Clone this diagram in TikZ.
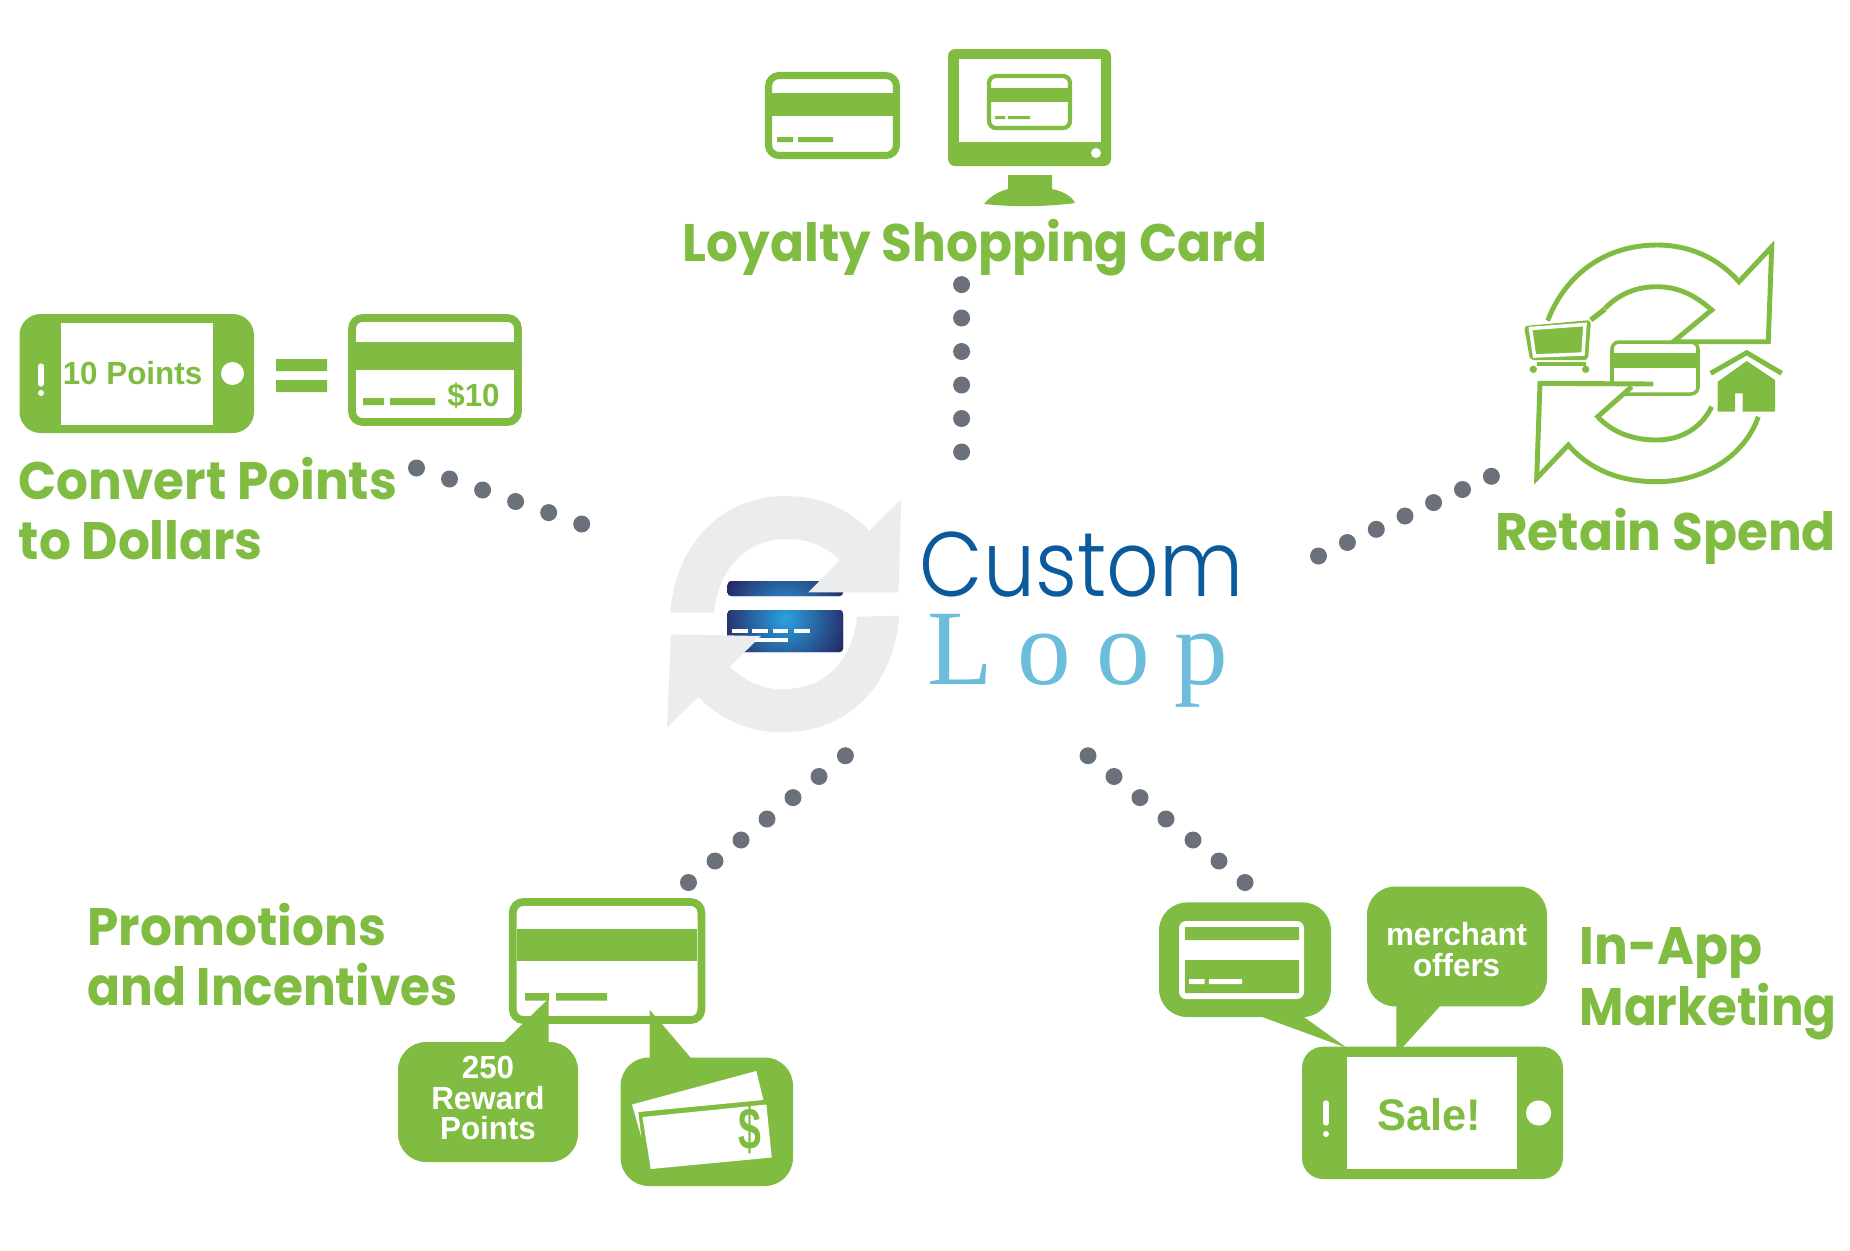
\documentclass[tikz,border=0pt]{standalone}
\usepackage{fontspec}
\setmainfont[FakeStretch=0.95]{Poppins}
\newfontfamily\smallfont[FakeStretch=0.98]{Liberation Sans}
\newfontfamily\thinfont[FakeStretch=0.9]{Poppins Light}
\newfontfamily\loopfont[LetterSpace=23]{Liberation Serif}

\definecolor{loopgreen}{RGB}{128,188,66}
\definecolor{dotgrey}{RGB}{106,113,123}
\definecolor{logogrey}{RGB}{235,236,238}
\definecolor{cardnavy}{RGB}{38,38,98}
\definecolor{cardblue}{RGB}{41,163,224}
\definecolor{customblue}{RGB}{10,90,156}
\definecolor{loopblue}{RGB}{108,189,219}

\tikzset{
	greenfill/.style={fill=loopgreen},
	whitefill/.style={fill=white},
	cardline/.style={draw=loopgreen,line width=2.2pt,fill=white,rounded corners=3pt},
	iconline/.style={draw=loopgreen,line width=1.4pt,line join=miter},
	dotmark/.style={fill=dotgrey},
	headtext/.style={text=loopgreen,anchor=base west,inner sep=0pt,font=\fontsize{15}{18}\selectfont\bfseries},
	smalltext/.style={inner sep=0pt,font=\smallfont\bfseries\fontsize{9.1}{8.7}\selectfont,align=center},
}

\begin{document}
\begin{tikzpicture}[x=0.01cm,y=-0.01cm]

	\useasboundingbox (0,0) rectangle (1850,1250);

	% dotted spokes
	\foreach \x/\y in {416.5/468,449.5/479,482.6/490,515.6/501.5,548.7/512.6,581.7/524,
		961.6/284.6,961.6/318,961.6/351.5,961.6/385,961.6/418.5,961.6/452,
		1491.4/476.3,1462.5/489.5,1433.6/502.6,1405/516,1376.3/529.3,1347.4/542.5,1318.5/556,
		845.4/755.7,819/776.5,793/797.6,767/819,741/840,715/861,688.5/882.5,
		1088/755.7,1114/776.5,1140/797.6,1166/819,1193/840,1219/861,1245/882.5}
		\fill[dotmark] (\x,\y) circle (8.5);

	% centre logo
	\begin{scope}
		\clip[rounded corners=1pt] (727.6,581) rectangle (843,596) (727.6,610) rectangle (843,652);
		\fill[cardnavy] (720,575) rectangle (850,660);
		\shade[inner color=cardblue,outer color=cardnavy] (785,618) circle (66);
	\end{scope}
	\foreach \x/\w in {732/16,752/15.6,772.5/15.5,793.5/16}
		\fill[white] (\x,629) rectangle ++(\w,4.3);
	\fill[logogrey] (670.3,612.7) .. controls (676,540) and (725,496) .. (785.4,496) .. controls (820,496) and (848,508) .. (869.4,530.7) -- (901.3,499) -- (898.5,592.3) -- (808.4,592.3) -- (840,560) .. controls (825,546) and (808,539) .. (787.4,539) .. controls (745,539) and (718,570) .. (714,612.7) -- cycle;
	\fill[logogrey] (899.3,615.7) .. controls (893,690) and (845,732.3) .. (782.2,732.3) .. controls (750,732.3) and (720,720) .. (698.6,696.7) -- (667,727.7) -- (671,634.3) -- (761,636) -- (729.7,666.7) .. controls (745,681) and (762,689.3) .. (782.2,689.3) .. controls (825,689.3) and (853,660) .. (857,616.7) -- cycle;
	\fill[white] (755,637.7) rectangle (788,641.7);
	\node[anchor=base west,inner sep=0pt,text=customblue,font=\thinfont\fontsize{26}{30}\selectfont] (customlabel) at (919,596) {Custom};
	\node[anchor=base west,inner sep=0pt,text=loopblue,font=\loopfont\fontsize{30.5}{34}\selectfont] (looplabel) at (927,684) {Loop};

	% loyalty shopping card
	\draw[cardline,line width=2pt] (768.5,75.5) rectangle (896.5,155.5);
	\fill[greenfill] (772,93) rectangle (894,116);
	\fill[greenfill] (777,137) rectangle (793,142) (798,137) rectangle (833,142);

	\fill[greenfill,rounded corners=2pt] (948,49) rectangle (1111,166);
	\fill[whitefill] (959,59) rectangle (1101,142);
	\fill[whitefill] (1096,153) circle (5);
	\draw[cardline,line width=1.2pt,rounded corners=2pt] (989,76) rectangle (1070,128);
	\fill[greenfill] (989,88) rectangle (1070,102);
	\fill[greenfill] (995,116) rectangle (1005,119) (1008,116) rectangle (1030,119);
	\fill[greenfill] (984,204) .. controls (990,196) and (1000,191) .. (1008,189) -- (1008,175) -- (1052,175) -- (1052,189) .. controls (1062,191) and (1072,196) .. (1075,203) .. controls (1045,207) and (1012,207) .. (984,204) -- cycle;

	\node[headtext] (loyaltylabel) at (682,261) {Loyalty Shopping Card};

	% convert points
	\fill[greenfill,rounded corners=6pt] (19.5,314) rectangle (254,433);
	\fill[whitefill] (61,323) rectangle (213,424.5);
	\fill[whitefill] (232.5,373.5) circle (11.5);
	\draw[white,line width=1.5pt,line cap=round] (41,366) -- (41,384);
	\fill[whitefill] (41,393) circle (3);
	\node[smalltext,text=loopgreen] (pointslabel) at (132.5,373) {10 Points};

	\fill[greenfill] (276,359) rectangle (327,371) (276,380) rectangle (327,392);

	\draw[cardline] (352,318) rectangle (518,422);
	\fill[greenfill] (356,341.5) rectangle (514,370);
	\fill[greenfill] (363,398) rectangle (384,405) (390,398) rectangle (435,405);
	\node[smalltext,text=loopgreen] (dollarlabel) at (473.5,396) {\$10};

	\node[headtext] (convertlabel) at (18,499.5) {Convert Points};
	\node[headtext] (dollarslabel) at (18,559) {to Dollars};

	% retain spend
	\draw[cardline,line width=1pt,rounded corners=2pt] (1612,342) rectangle (1698,394);
	\fill[greenfill] (1612,352.7) rectangle (1698,368.3);
	\fill[whitefill] (1653.3,384) -- (1540,383.3) -- (1536.7,478.3) -- (1568.3,445) -- (1656.7,481.7) -- (1758.3,416.7) -- (1711.7,406.7) -- (1656.7,440) -- (1597.7,416.7) -- (1631.7,386.7) -- cycle;
	\draw[iconline] (1547.7,320.7) .. controls (1565,275) and (1605,245) .. (1656.7,245) .. controls (1690,245) and (1718,258) .. (1739,281.7) -- (1771.7,246.7) -- (1768.3,341.7) -- (1673.3,341.7) -- (1711.7,310) .. controls (1695,295) and (1678,286.7) .. (1656.7,286.7) .. controls (1635,286.7) and (1618,295) .. (1605,308.3);
	\draw[iconline] (1653.3,384) -- (1540,383.3) -- (1536.7,478.3) -- (1568.3,445) .. controls (1590,470) and (1620,481.7) .. (1656.7,481.7) .. controls (1705,481.7) and (1745,455) .. (1758.3,416.7);
	\draw[iconline] (1631.7,386.7) -- (1597.7,416.7) .. controls (1612,432) and (1632,440) .. (1656.7,440) .. controls (1682,440) and (1702,427) .. (1711.7,406.7);

	\fill[greenfill,rounded corners=1pt] (1524,326) -- (1591,320) -- (1588,360) -- (1530,360) -- cycle;
	\draw[white,line width=1pt] (1530.5,328.5) -- (1585,324.5) -- (1583,354) -- (1534.5,356) -- cycle;
	\draw[iconline,line width=1.5pt] (1590.7,320) -- (1605,309);
	\draw[iconline,line width=1pt] (1537.3,364) -- (1586,364);
	\fill[greenfill] (1533.3,369.3) circle (3.7) (1585.7,369.3) circle (3.7);

	\fill[greenfill] (1717.7,411.7) -- (1717.7,381.7) -- (1746.7,361) -- (1775,380) -- (1775,411.7) -- (1742.7,411.7) -- (1742.7,393.3) -- (1735,393.3) -- (1735,411.7) -- cycle;
	\draw[iconline] (1710.7,373.3) -- (1746.7,352.7) -- (1781.7,373.3);

	\node[headtext] (retainlabel) at (1494.5,550) {Retain Spend};

	% promotions
	\draw[cardline] (512.8,902) rectangle (701.4,1020);
	\fill[greenfill] (517,929) rectangle (697,961);
	\fill[greenfill] (525,993) rectangle (549,1000.5) (556,993) rectangle (607,1000.5);

	\fill[greenfill,rounded corners=8pt] (398,1042) rectangle (578,1162);
	\fill[greenfill] (503,1043) -- (548.7,998.5) -- (548.7,1043) -- cycle;
	\node[smalltext,text=white] (rewardlabel) at (488,1098) {250\\Reward\\Points};

	\fill[greenfill,rounded corners=8pt] (620.6,1057.5) rectangle (793,1186);
	\fill[greenfill] (649.5,1058.5) -- (649.5,1009.6) -- (691.4,1058.5) -- cycle;
	\fill[whitefill] (632,1104.5) -- (756.3,1071) -- (763.4,1100) -- (638.3,1112) -- (641.3,1137) -- cycle;
	\fill[whitefill] (642.5,1117) -- (766.4,1104.5) -- (771.7,1157.5) -- (650.7,1169) -- cycle;
	\node[inner sep=0pt,text=loopgreen,font=\smallfont\bfseries\fontsize{14}{16}\selectfont] (billlabel) at (750,1130) {\scalebox{0.85}[1.2]{\$}};

	\node[headtext] (promotionslabel) at (87,945) {Promotions};
	\node[headtext] (incentiveslabel) at (87,1005.6) {\scalebox{0.97}[1]{and Incentives}};

	% in-app marketing
	\fill[greenfill,rounded corners=8pt] (1159,902.4) rectangle (1331,1017);
	\fill[greenfill] (1259.5,1016) -- (1347,1048) -- (1302.6,1016) -- cycle;
	\fill[whitefill,rounded corners=2pt] (1179,921) rectangle (1304,999);
	\fill[greenfill] (1185,927) rectangle (1299,940) (1185,960) rectangle (1299,993);
	\fill[whitefill] (1189,979) rectangle (1204.6,984) (1209,979) rectangle (1242,984);

	\fill[greenfill,rounded corners=8pt] (1367,886.5) rectangle (1547,1006.4);
	\fill[greenfill] (1396.4,1005) -- (1396.4,1048) -- (1402,1048) -- (1441,1005) -- cycle;
	\node[smalltext,text=white] (merchantlabel) at (1456.6,949.3) {merchant\\offers};

	\fill[greenfill,rounded corners=6pt] (1302,1046.7) rectangle (1563,1179);
	\fill[whitefill] (1347.4,1057) rectangle (1517,1168.6);
	\fill[whitefill] (1538.6,1113) circle (12.6);
	\draw[white,line width=1.5pt,line cap=round] (1326,1103) -- (1326,1123);
	\fill[whitefill] (1326,1134) circle (3);
	\node[inner sep=0pt,text=loopgreen,font=\smallfont\bfseries\fontsize{12.6}{15}\selectfont] (salelabel) at (1429.5,1115) {Sale!};

	\node[headtext] (inapplabel) at (1579,964.5) {In-App};
	\node[headtext] (marketinglabel) at (1579,1025) {\scalebox{0.965}[1]{Marketing}};

\end{tikzpicture}
\end{document}
